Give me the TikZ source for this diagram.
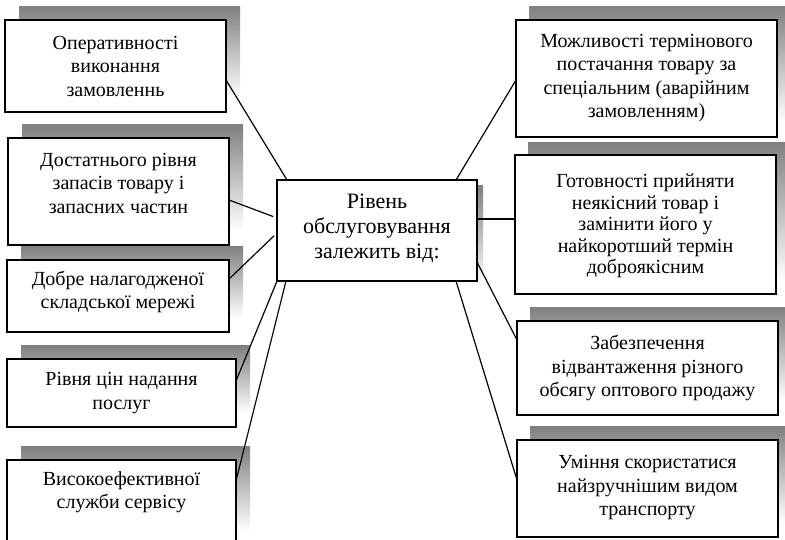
\documentclass[tikz,border=0pt]{standalone}
\usepackage{fontspec}
\setmainfont{Liberation Serif}
\usetikzlibrary{calc}
\definecolor{shade}{RGB}{128,131,134}
\tikzset{
  itembox/.style={draw=black, line width=1.4pt, fill=white, inner sep=0pt, outer sep=0pt},
  itemtext/.style={align=center, inner sep=0pt, font=\fontsize{20}{23.5}\selectfont},
  link/.style={draw=black, line width=1.2pt},
}
% name, x1, y1, x2, y2, shadow dx, text centre y, text
\newcommand\mkbox[8]{%
  \fill[shade] ({#2+#6},{#3-14}) rectangle ({#4+#6},{#5-14});
  \node[itembox, minimum width={#4-#2}, minimum height={#5-#3}] (#1) at ({(#2+#4)/2},{(#3+#5)/2}) {};
  \node[itemtext] (#1t) at ({(#2+#4)/2},#7) {#8};
}
\begin{document}
\begin{tikzpicture}[x=1pt,y=-1pt]
\useasboundingbox (0,0) rectangle (785,539);
\clip (0,0) rectangle (785,539);
\fill[white] (0,0) rectangle (785,539);
% left column
\mkbox{b1}{5}{20}{226}{112}{14}{66}{Оперативності\\виконання\\замовленнь}
\mkbox{b2}{8}{138}{229}{245}{14}{183}{Достатнього рівня\\запасів товару і\\запасних частин}
\mkbox{b3}{7}{260}{229}{332}{14}{292}{Добре налагодженої\\складської мережі}
\mkbox{b4}{7}{359}{236}{427}{14}{393}{Рівня цін надання\\послуг}
\mkbox{b5}{7}{460}{236}{545}{14}{492}{Високоефективної\\служби сервісу}
% right column
\mkbox{r1}{516}{20}{777}{137}{13}{78}{Можливості термінового\\постачання товару за\\спеціальним (аварійним\\замовленням)}
\fill[shade] (528,142) rectangle (790,282);
\node[itembox, minimum width=261, minimum height=139] (r2) at (645.5,224.5) {};
\node[itemtext, font=\fontsize{20}{21.5}\selectfont] (r2t) at (645.5,226) {Готовності прийняти\\неякісний товар і\\замінити його у\\найкоротший термін\\доброякісним};
\mkbox{r3}{517}{321}{778}{415}{13}{368}{Забезпечення\\відвантаження різного\\обсягу оптового продажу}
\mkbox{r4}{517}{440}{778}{537}{13}{488}{Уміння скористатися\\найзручнішим видом\\транспорту}
% centre
\fill[shade] (283,185) rectangle (483,286);
\node[itembox, minimum width=200, minimum height=101] (c) at (377,230.5) {};
\node[itemtext, font=\fontsize{22}{25}\selectfont] (ct) at (377,228) {Рівень\\обслуговування\\залежить від:};
% connectors
\draw[link] (b1.east |- 0,80) -- (287,0 |- c.north);
\draw[link, shorten >=4pt] (b2.east |- 0,200) -- (c.west |- 0,218);
\draw[link, shorten >=4pt] (b3.east |- 0,279) -- (c.west |- 0,233);
\draw[link] (b4.east |- 0,381) -- (c.south west);
\draw[link] (b5.east |- 0,481) -- (286,0 |- c.south);
\draw[link] (r1.west |- 0,80) -- (456,0 |- c.north);
\draw[link] (c.east |- 0,219) -- (r2.west |- 0,219);
\draw[link] (c.east |- 0,262) -- (r3.west |- 0,340);
\draw[link] (456,0 |- c.south) -- (r4.west |- 0,480);
\end{tikzpicture}
\end{document}
